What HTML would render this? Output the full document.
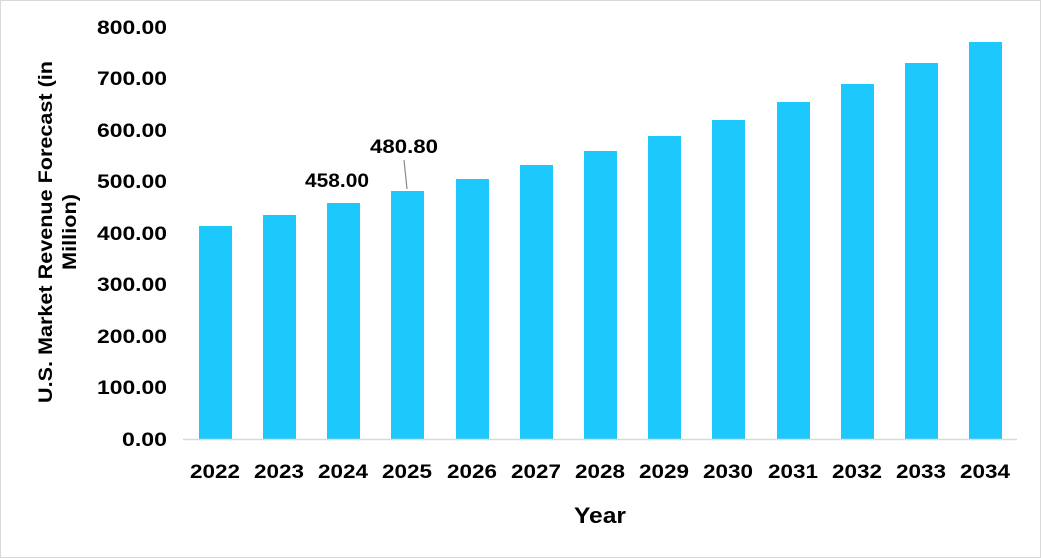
<!DOCTYPE html>
<html><head><meta charset="utf-8"><style>
body{margin:0;background:#fff}
svg{display:block}
text{font-family:"Liberation Sans",sans-serif;font-weight:bold;fill:#000}
</style></head><body>
<svg width="1041" height="558" viewBox="0 0 1041 558">
<rect x="0.5" y="0.5" width="1040" height="557" fill="#fff" stroke="#d9d9d9"/>
<g font-size="19" text-anchor="end">
<text x="167" y="446" textLength="45" lengthAdjust="spacingAndGlyphs">0.00</text>
<text x="167" y="394" textLength="70" lengthAdjust="spacingAndGlyphs">100.00</text>
<text x="167" y="343" textLength="70" lengthAdjust="spacingAndGlyphs">200.00</text>
<text x="167" y="291" textLength="70" lengthAdjust="spacingAndGlyphs">300.00</text>
<text x="167" y="240" textLength="70" lengthAdjust="spacingAndGlyphs">400.00</text>
<text x="167" y="188" textLength="70" lengthAdjust="spacingAndGlyphs">500.00</text>
<text x="167" y="137" textLength="70" lengthAdjust="spacingAndGlyphs">600.00</text>
<text x="167" y="85" textLength="70" lengthAdjust="spacingAndGlyphs">700.00</text>
<text x="167" y="34" textLength="70" lengthAdjust="spacingAndGlyphs">800.00</text>
</g>
<g fill="#1cc8fc">
<rect x="199" y="226" width="33" height="213"/>
<rect x="263" y="215" width="33" height="224"/>
<rect x="327" y="203" width="33" height="236"/>
<rect x="391" y="191" width="33" height="248"/>
<rect x="456" y="179" width="33" height="260"/>
<rect x="520" y="165" width="33" height="274"/>
<rect x="584" y="151" width="33" height="288"/>
<rect x="648" y="136" width="33" height="303"/>
<rect x="712" y="120" width="33" height="319"/>
<rect x="777" y="102" width="33" height="337"/>
<rect x="841" y="84" width="33" height="355"/>
<rect x="905" y="63" width="33" height="376"/>
<rect x="969" y="42" width="33" height="397"/>
</g>
<line x1="183" y1="439.5" x2="1017" y2="439.5" stroke="#d9d9d9" stroke-width="1.5"/>
<g font-size="19" text-anchor="middle">
<text x="215" y="478" textLength="50" lengthAdjust="spacingAndGlyphs">2022</text>
<text x="279" y="478" textLength="50" lengthAdjust="spacingAndGlyphs">2023</text>
<text x="343" y="478" textLength="50" lengthAdjust="spacingAndGlyphs">2024</text>
<text x="407" y="478" textLength="50" lengthAdjust="spacingAndGlyphs">2025</text>
<text x="472" y="478" textLength="50" lengthAdjust="spacingAndGlyphs">2026</text>
<text x="536" y="478" textLength="50" lengthAdjust="spacingAndGlyphs">2027</text>
<text x="600" y="478" textLength="50" lengthAdjust="spacingAndGlyphs">2028</text>
<text x="664" y="478" textLength="50" lengthAdjust="spacingAndGlyphs">2029</text>
<text x="728" y="478" textLength="50" lengthAdjust="spacingAndGlyphs">2030</text>
<text x="793" y="478" textLength="50" lengthAdjust="spacingAndGlyphs">2031</text>
<text x="857" y="478" textLength="50" lengthAdjust="spacingAndGlyphs">2032</text>
<text x="921" y="478" textLength="50" lengthAdjust="spacingAndGlyphs">2033</text>
<text x="985" y="478" textLength="50" lengthAdjust="spacingAndGlyphs">2034</text>
<text x="337" y="187" textLength="64" lengthAdjust="spacingAndGlyphs">458.00</text>
<text x="404" y="153" textLength="68" lengthAdjust="spacingAndGlyphs">480.80</text>
</g>
<line x1="404" y1="160" x2="407" y2="189" stroke="#888" stroke-width="1.2"/>
<text x="600" y="523" font-size="22" text-anchor="middle" textLength="52" lengthAdjust="spacingAndGlyphs">Year</text>
<text transform="translate(52,232) rotate(-90)" font-size="19" text-anchor="middle" textLength="342" lengthAdjust="spacingAndGlyphs">U.S. Market Revenue Forecast (in</text>
<text transform="translate(76,232) rotate(-90)" font-size="19" text-anchor="middle" textLength="76" lengthAdjust="spacingAndGlyphs">Million)</text>
</svg>
</body></html>
